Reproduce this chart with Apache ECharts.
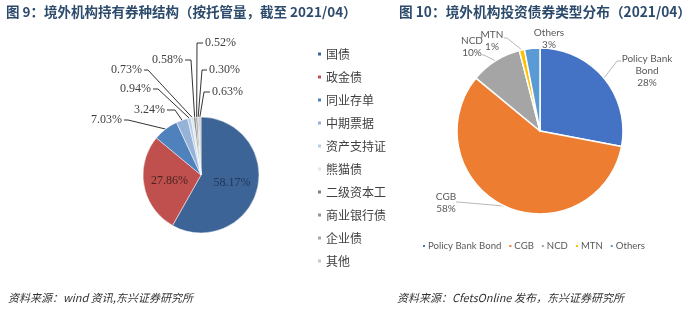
<!DOCTYPE html>
<html>
<head>
<meta charset="utf-8">
<script src="https://cdn.jsdelivr.net/npm/echarts@6/dist/echarts.min.js"></script>
<style>html,body{margin:0;padding:0;background:#fff}#c{width:700px;height:325px}</style>
</head>
<body>
<div id="c"></div>
<script>
// ---- data ----
const leftNames = ['国债','政金债','同业存单','中期票据','资产支持证','熊猫债','二级资本工','商业银行债','企业债','其他'];
const leftValues = [58.17, 27.86, 7.03, 3.24, 0.94, 0.73, 0.58, 0.52, 0.30, 0.63];
const rightNames = ['Policy Bank Bond','CGB','NCD','MTN','Others'];
const rightValues = [28, 58, 10, 1, 3];
const leftTitle = '图 9：境外机构持有券种结构（按托管量，截至 2021/04）';
const rightTitle = '图 10：境外机构投资债券类型分布（2021/04）';
const leftSource = '资料来源：wind 资讯,东兴证券研究所';
const rightSource = '资料来源：CfetsOnline 发布，东兴证券研究所';

// ---- styles / layout ----
const leftColors = ['#3c6496','#c0504d','#4f81bd','#95b3d7','#b9cde5','#dce6f2','#7f7f7f','#969696','#a6a6a6','#c8c8c8'];
const rightColors = ['#4472c4','#ed7d31','#a5a5a5','#ffc000','#5b9bd5'];
// label spot: [text edge x, y, align, turn x]
const leftSpots = {
  2: [122, 120, 'right', 128],
  3: [165, 110, 'right', 175],
  4: [151, 89, 'right', 158],
  5: [142, 70, 'right', 148],
  6: [183, 60, 'right', 191],
  7: [205, 43, 'left', 197],
  8: [209, 70, 'left', 202],
  9: [212, 92, 'left', 204]
};
// right label spot: [center x, center y, turn point, end point]
const rightSpots = {
  0: [647, 71, [617, 61], [621, 61]],
  1: [446, 203, [458, 202], [456, 202]],
  2: [472, 47, [484, 55], [482, 55]],
  3: [492, 41, [507, 38], [504, 38]],
  4: [549, 39, null, null]
};

const leftData = leftNames.map((n, i) => {
  const d = { name: n, value: leftValues[i], itemStyle: { color: leftColors[i] } };
  if (i < 2) {
    d.label = { position: 'inside', color: i === 0 ? '#22375a' : '#4a2322' };
    d.labelLine = { show: false };
  }
  return d;
});
const rightData = rightNames.map((n, i) => {
  const d = { name: n, value: rightValues[i], itemStyle: { color: rightColors[i] } };
  if (i === 4) d.labelLine = { show: false };
  return d;
});

const chart = echarts.init(document.getElementById('c'), null, { renderer: 'canvas' });
chart.setOption({
  animation: false,
  backgroundColor: '#fff',
  title: [
    { text: leftTitle, left: 6, top: 5, padding: 0,
      textStyle: { fontSize: 13.5, fontWeight: 'bold', color: '#2c4a6b', fontFamily: '"Noto Sans CJK SC"' } },
    { text: rightTitle, left: 399, top: 5, padding: 0,
      textStyle: { fontSize: 13.7, fontWeight: 'bold', color: '#2c4a6b', fontFamily: '"Noto Sans CJK SC"' } }
  ],
  legend: [
    { orient: 'vertical', left: 316, top: 48, padding: 0, itemWidth: 5, itemHeight: 5, itemGap: 11,
      icon: 'rect', data: leftNames,
      textStyle: { fontSize: 12, color: '#404040', fontFamily: '"Noto Sans CJK SC"', padding: [0, 0, 0, -1] } },
    { orient: 'horizontal', left: 421, top: 241, padding: 0, itemWidth: 4, itemHeight: 4, itemGap: 6,
      icon: 'rect', data: rightNames,
      textStyle: { fontSize: 9.6, color: '#595959', fontFamily: 'Lato', padding: [0, 0, 0, -3] } }
  ],
  graphic: [
    { type: 'text', left: 8, top: 292, style: { text: leftSource, font: 'italic 11px "Noto Sans CJK SC"', fill: '#333' } },
    { type: 'text', left: 397, top: 292, style: { text: rightSource, font: 'italic 11px "Noto Sans CJK SC"', fill: '#333' } }
  ],
  series: [
    {
      type: 'pie', name: 'left', center: [201, 175], radius: 58, startAngle: 90, clockwise: true,
      avoidLabelOverlap: false,
      itemStyle: { borderColor: '#fff', borderWidth: 0.5 },
      label: { show: true, position: 'outside', formatter: p => p.value.toFixed(2) + '%',
        fontSize: 12, color: '#404040', fontFamily: '"Liberation Serif"' },
      labelLine: { show: true, length: 10, length2: 10, lineStyle: { color: '#000', width: 0.8 } },
      labelLayout: function (params) {
        const s = leftSpots[params.dataIndex];
        if (!s || !params.labelLinePoints) return {};
        const edge = params.labelLinePoints[0];
        const endX = s[2] === 'right' ? s[0] + 2 : s[0] - 2;
        return {
          x: s[0], y: s[1], align: s[2], verticalAlign: 'middle',
          labelLinePoints: [[edge[0], edge[1]], [s[3], s[1]], [endX, s[1]]]
        };
      },
      data: leftData
    },
    {
      type: 'pie', name: 'right', center: [540, 131], radius: 83, startAngle: 90, clockwise: true,
      avoidLabelOverlap: false,
      itemStyle: { borderColor: '#fff', borderWidth: 1.5 },
      label: { show: true, position: 'outside',
        formatter: p => (p.name === 'Policy Bank Bond' ? 'Policy Bank\nBond' : p.name) + '\n' + p.value + '%',
        fontSize: 10, lineHeight: 12, color: '#595959', fontFamily: 'Lato', align: 'center' },
      labelLine: { show: true, length: 8, length2: 8, lineStyle: { color: '#a6a6a6', width: 0.8 } },
      labelLayout: function (params) {
        const s = rightSpots[params.dataIndex];
        if (!s) return {};
        const out = { x: s[0], y: s[1], align: 'center', verticalAlign: 'middle' };
        if (s[2] && params.labelLinePoints) {
          const edge = params.labelLinePoints[0];
          out.labelLinePoints = [[edge[0], edge[1]], s[2], s[3]];
        }
        return out;
      },
      data: rightData
    }
  ]
});
</script>
</body>
</html>
